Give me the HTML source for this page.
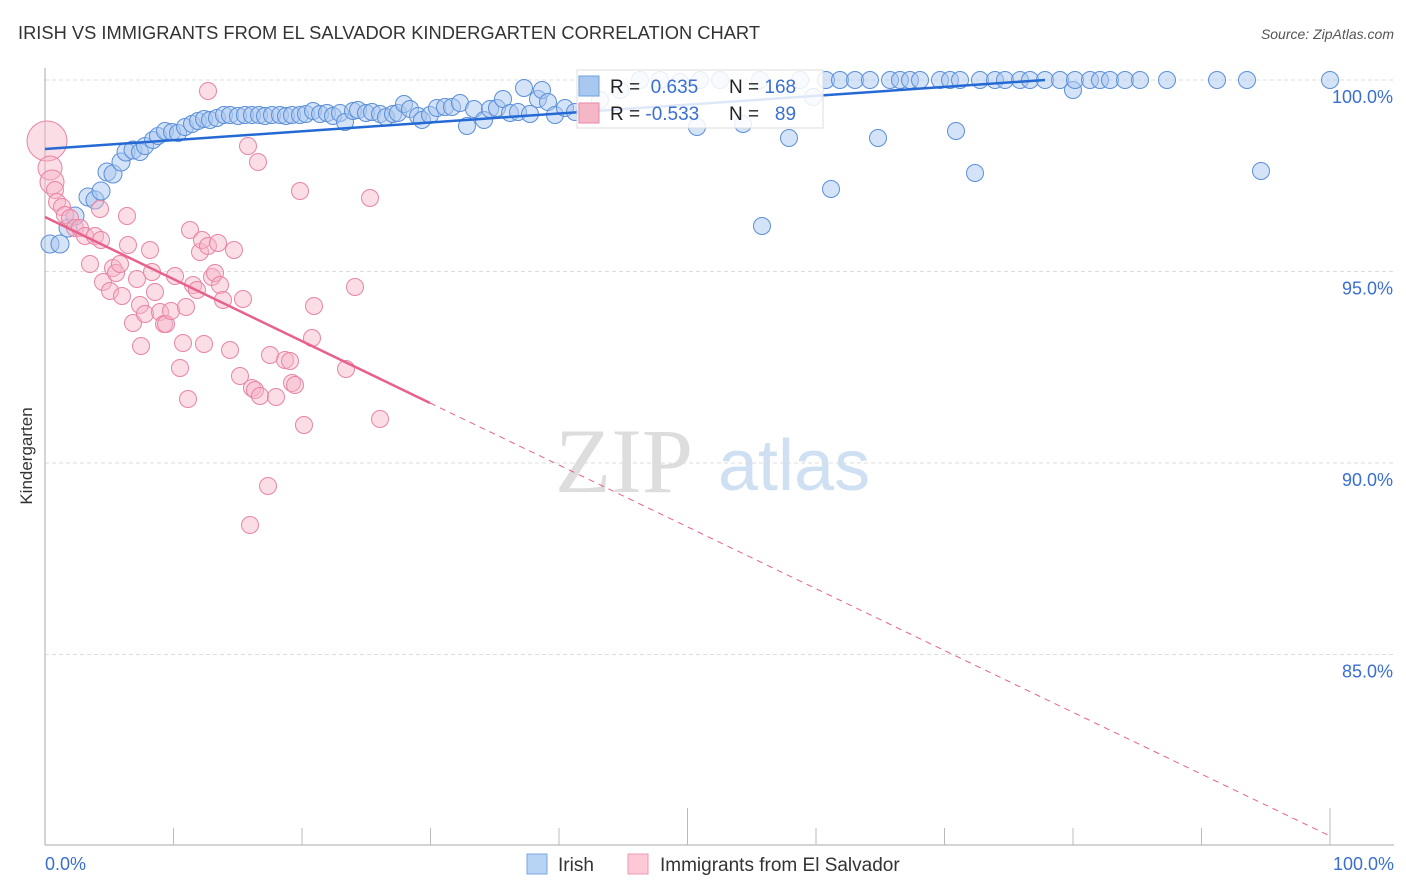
<!DOCTYPE html>
<html><head><meta charset="utf-8"><style>
body{margin:0;background:#fff;font-family:"Liberation Sans",sans-serif}
svg{display:block}
</style></head><body>
<svg id="c" width="1406" height="892">
<text x="18" y="39" font-size="18" fill="#333" textLength="742" lengthAdjust="spacingAndGlyphs">IRISH VS IMMIGRANTS FROM EL SALVADOR KINDERGARTEN CORRELATION CHART</text>
<text x="1394" y="39" font-size="14" fill="#555" font-style="italic" text-anchor="end">Source: ZipAtlas.com</text>
<text x="32" y="456" font-size="17" fill="#333" text-anchor="middle" transform="rotate(-90 32 456)">Kindergarten</text>
<text x="555" y="492" font-size="92" fill="#ddd" font-family="Liberation Serif,serif">ZIP</text>
<text x="718" y="490" font-size="72" fill="#cfe0f3">atlas</text>
<g id="grid"></g><g id="axes"></g><g id="pts"></g><g id="lines"></g>
<g>
<rect x="577" y="70" width="246" height="58" fill="#fff" fill-opacity="0.85" stroke="#ddd"/>
<rect x="579" y="76" width="20" height="20" fill="#a9c8f0" stroke="#6f9fdc"/>
<rect x="579" y="103" width="20" height="20" fill="#f5b6c8" stroke="#e68aa6"/>
<text x="610" y="93" font-size="19" fill="#222">R = <tspan fill="#3a6fd0">&#160;0.635</tspan><tspan x="729">N = </tspan><tspan fill="#3a6fd0">168</tspan></text>
<text x="610" y="120" font-size="19" fill="#222">R = <tspan fill="#3a6fd0">-0.533</tspan><tspan x="729">N = </tspan><tspan fill="#3a6fd0">&#160;&#160;89</tspan></text>
</g>
<g>
<rect x="527" y="854" width="20" height="20" fill="#b7d3f6" stroke="#7aa6e0"/>
<text x="558" y="871" font-size="19" fill="#333">Irish</text>
<rect x="628" y="854" width="20" height="20" fill="#fdc9d7" stroke="#eb9ab2"/>
<text x="660" y="871" font-size="19" fill="#333">Immigrants from El Salvador</text>
</g>
</svg>
<script>
const blueX=[50,60,68,75,88,95,101,107,113,121,126,133,140,145,153,158,165,172,178,185,192,198,204,210,217,224,230,238,245,252,259,265,272,280,286,292,300,306,313,320,327,333,340,345,353,358,366,372,380,386,393,398,404,410,418,422,430,437,445,452,460,467,474,484,490,497,503,510,518,524,530,538,542,548,555,565,575,585,600,620,640,660,680,697,700,720,743,760,762,789,800,813,826,831,840,855,870,878,890,900,910,920,940,950,956,960,975,980,995,1005,1020,1030,1045,1060,1073,1075,1090,1100,1110,1125,1140,1167,1217,1247,1261,1330];
const blueY=[244,244,228,216,197,200,191,172,174,162,152,150,152,146,140,136,131,132,133,127,124,121,119,120,118,115,115,116,115,115,115,116,115,115,116,115,115,114,111,114,113,116,113,122,111,110,113,112,114,117,114,113,104,109,116,120,115,108,107,107,103,126,109,120,109,108,99,113,112,88,114,99,90,102,115,108,112,112,100,90,80,80,82,127,80,80,124,80,226,138,80,97,80,189,80,80,80,138,80,80,80,80,80,80,131,80,173,80,80,80,80,80,80,80,90,80,80,80,80,80,80,80,80,80,171,80];
const pinkX=[47,50,52,55,57,62,65,70,75,80,85,95,100,101,90,103,110,113,116,120,122,127,128,133,137,140,141,145,150,152,155,160,164,166,171,175,180,183,186,188,190,193,197,200,202,204,208,212,215,218,220,223,230,234,240,243,248,252,255,258,260,268,270,276,285,290,292,295,300,304,314,312,346,355,370,380,250,208];
const pinkY=[141,168,182,190,202,207,215,218,228,228,236,236,209,240,264,282,291,268,273,264,296,216,245,323,279,305,346,314,250,272,292,312,324,324,311,276,368,343,307,399,230,285,290,252,240,344,246,277,273,243,285,300,350,250,376,299,146,388,390,162,396,486,355,397,360,361,383,385,191,425,306,338,369,287,198,419,525,91];
const toX=p=>(p-45)/12.85, toY=p=>100-(p-80)/38.3;
const irishX=blueX.map(toX), irishY=blueY.map(toY);
const salvX=pinkX.map(toX), salvY=pinkY.map(toY);
const yTicks=[100,95,90,85];
const xTickVals=[0,10,20,30,40,50,60,70,80,90,100];
const sx=v=>45+v*12.85, sy=v=>80+(100-v)*38.3;
const NS="http://www.w3.org/2000/svg";
function mk(tag,attrs,parent){const e=document.createElementNS(NS,tag);for(const k in attrs)e.setAttribute(k,attrs[k]);document.getElementById(parent).appendChild(e);return e;}
yTicks.forEach(v=>{
 const l=mk('line',{x1:45,x2:1394,y1:sy(v),y2:sy(v),stroke:'#ddd','stroke-dasharray':'4,3'},'grid');
 
 
 const t=mk('text',{x:1393,y:sy(v)+23,'font-size':18,fill:'#3a6fd0','text-anchor':'end'},'grid');
 t.textContent=v.toFixed(1)+'%';
 
 
});
const ax=mk('line',{x1:45,x2:45,y1:68,y2:845,stroke:'#aaa'},'axes');


const bx=mk('line',{x1:45,x2:1394,y1:845,y2:845,stroke:'#aaa'},'axes');


xTickVals.slice(1).forEach(v=>{
 const tall=(v===50||v===100);
 const t=mk('line',{x1:sx(v),x2:sx(v),y1:tall?808:828,y2:845,stroke:'#bbb'},'axes');
 
 
});
[[0,'start',45],[100,'end',1394]].forEach(([v,a,x])=>{
 const t=mk('text',{x:x,y:870,'font-size':18,fill:'#3a6fd0','text-anchor':a},'axes');
 t.textContent=v.toFixed(1)+'%';
 
 
});
irishX.forEach((v,i)=>{
 const c=mk('circle',{cx:sx(v),cy:sy(irishY[i]),r:i<12?9:8.5,fill:'#a9c8f0','fill-opacity':0.5,stroke:'#5b8fd8','stroke-width':1},'pts');
 
 
});
salvX.forEach((v,i)=>{
 const c=mk('circle',{cx:sx(v),cy:sy(salvY[i]),r:i===0?20:(i<3?12:8.5),fill:'#f7b3c7','fill-opacity':0.45,stroke:'#e884a4','stroke-width':1},'pts');
 
 
});
const bl=mk('line',{x1:45,y1:149,x2:1045,y2:80,stroke:'#2469d4','stroke-width':2.5},'lines');


const pl=mk('line',{x1:45,y1:217,x2:430,y2:403,stroke:'#e8608c','stroke-width':2.5},'lines');


const pd=mk('line',{x1:430,y1:403,x2:1330,y2:836,stroke:'#e8608c','stroke-width':1,'stroke-dasharray':'6,5'},'lines');


</script>
</body></html>
